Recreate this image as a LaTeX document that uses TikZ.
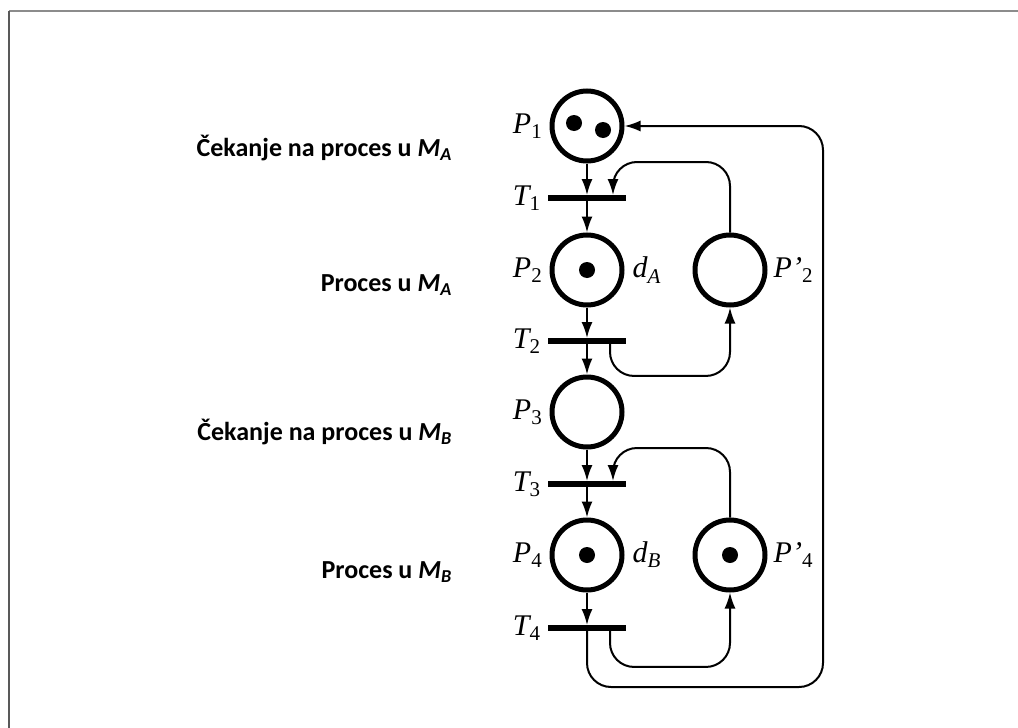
\documentclass[tikz,border=0pt]{standalone}
\usepackage{fontspec}
\setmainfont{Liberation Serif}
\newfontfamily\notefont{Carlito}
\usetikzlibrary{positioning,arrows.meta}

\tikzset{
  place/.style={circle,draw,line width=5pt,minimum size=70pt,inner sep=0pt},
  trans/.style={rectangle,fill,minimum width=78pt,minimum height=5.5pt,inner sep=0pt},
  lbl/.style={inner sep=0pt,font=\fontsize{30}{34}\selectfont\itshape},
  note/.style={inner sep=0pt,anchor=east,font=\notefont\bfseries\fontsize{26}{30}\selectfont},
  flow/.style={line width=2pt,-{Latex[length=16pt,width=11pt]},rounded corners=24pt},
}

\begin{document}
\begin{tikzpicture}[x=1pt,y=-1pt]
    \useasboundingbox (0,0) rectangle (1018,728);
    \draw[line width=2pt,black!45] (9,11) -- (1018,11);
    \draw[line width=2pt,black!65] (9,11) -- (9,728);

    % places and transitions
    \node[place] (P1) at (587,126) {};
    \node[trans] (T1) at (587,198) {};
    \node[place] (P2) at (587,270) {};
    \node[trans] (T2) at (587,341) {};
    \node[place] (P3) at (587,412) {};
    \node[trans] (T3) at (587,484) {};
    \node[place] (P4) at (587,555) {};
    \node[trans] (T4) at (587,628) {};
    \node[place] (Pp2) at (730,270) {};
    \node[place] (Pp4) at (730,555) {};
    \coordinate (loop) at (823,687);

    % tokens
    \fill (574,123) circle (8pt);
    \fill (603,130) circle (8pt);
    \foreach \p in {P2,P4,Pp4}{
        \fill (\p) circle (8pt);
      }

    % labels
    \node[lbl,left=7pt of P1] (lP1) {P\textsubscript{\upshape 1}};
    \node[lbl,left=7pt of P2] (lP2) {P\textsubscript{\upshape 2}};
    \node[lbl,left=7pt of P3] (lP3) {P\textsubscript{\upshape 3}};
    \node[lbl,left=7pt of P4] (lP4) {P\textsubscript{\upshape 4}};
    \node[lbl,left=7pt of T1] (lT1) {T\textsubscript{\upshape 1}};
    \node[lbl,left=7pt of T2] (lT2) {T\textsubscript{\upshape 2}};
    \node[lbl,left=7pt of T3] (lT3) {T\textsubscript{\upshape 3}};
    \node[lbl,left=7pt of T4] (lT4) {T\textsubscript{\upshape 4}};
    \node[lbl,right=8pt of P2] (dA) {d\textsubscript{A}};
    \node[lbl,right=8pt of P4] (dB) {d\textsubscript{B}};
    \node[lbl,right=6pt of Pp2] (lPp2) {P’\textsubscript{\upshape 2}};
    \node[lbl,right=6pt of Pp4] (lPp4) {P’\textsubscript{\upshape 4}};

    \node[note] (nWA) at (452,148) {Čekanje na proces u \textit{M}\textsubscript{\textit{A}}};
    \node[note] (nPA) at (452,285) {Proces u \textit{M}\textsubscript{\textit{A}}};
    \node[note] (nWB) at (452,432) {Čekanje na proces u \textit{M}\textsubscript{\textit{B}}};
    \node[note] (nPB) at (452,572) {Proces u \textit{M}\textsubscript{\textit{B}}};

    % arcs
    \draw[flow] (P1) -- (T1);
    \draw[flow] (T1) -- (P2);
    \draw[flow] (P2) -- (T2);
    \draw[flow] (T2) -- (P3);
    \draw[flow] (P3) -- (T3);
    \draw[flow] (T3) -- (P4);
    \draw[flow] (P4) -- (T4);
    \draw[flow] (Pp2) -- ++(0,-108) -| ([xshift=26pt]T1.north);
    \draw[flow] ([xshift=23pt]T2.south) -- ++(0,32) -| (Pp2);
    \draw[flow] (Pp4) -- ++(0,-107) -| ([xshift=26pt]T3.north);
    \draw[flow] ([xshift=23pt]T4.south) -- ++(0,36) -| (Pp4);
    \draw[flow] (T4) |- (loop) |- (P1);
  \end{tikzpicture}
\end{document}
